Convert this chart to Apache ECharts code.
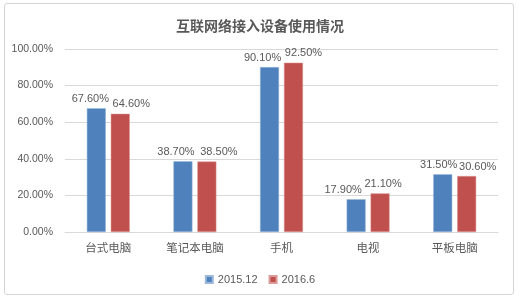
<!DOCTYPE html>
<html><head><meta charset="utf-8">
<script src="https://cdn.jsdelivr.net/npm/echarts@6/dist/echarts.min.js"></script>
<style>html,body{margin:0;padding:0;background:#fff}#wrap{position:absolute;left:4px;top:3px;width:510px;height:292px;border:1px solid #d4d4d4;border-radius:3px;box-sizing:border-box}#c{position:absolute;left:0;top:0;width:520px;height:299px}</style>
</head><body><div id="wrap"></div><div id="c"></div>
<script>
const categories = ['台式电脑','笔记本电脑','手机','电视','平板电脑'];
const series2015 = [67.6, 38.7, 90.1, 17.9, 31.5];
const series2016 = [64.6, 38.5, 92.5, 21.1, 30.6];
const seriesNames = ['2015.12','2016.6'];
const yTicks = {min:0, max:100, interval:20};
// horizontal nudges of the value labels (as placed in the original to avoid overlap)
const labelShift2015 = [-6, -7, -7, -13, -4];
const labelShift2016 = [11, 12, 10, 3, 11];

const font = '"Liberation Sans", "Noto Sans CJK SC", sans-serif';
const cjk = '"Noto Sans CJK SC", sans-serif';
const chart = echarts.init(document.getElementById('c'));
const mkLabel = () => ({show:true, position:'top', distance:4, color:'#595959', fontSize:11, fontFamily:font,
  formatter: p => p.value.toFixed(2) + '%'});
const mkData = (vals, shifts) => vals.map((v,i) => ({value:v, label:{offset:[shifts[i],0]}}));
chart.setOption({
  animation:false,
  title:{text:'互联网络接入设备使用情况', left:'center', top:14,
    textStyle:{fontSize:14, fontWeight:'bold', color:'#595959', fontFamily:cjk}},
  legend:{data:seriesNames, top:269, left:'center', itemWidth:7, itemHeight:7, itemGap:11,
    icon:'rect', textStyle:{color:'#595959', fontSize:11, fontFamily:font}},
  grid:{left:65, right:22, top:49, bottom:67, containLabel:false},
  xAxis:{type:'category', data:categories,
    axisLine:{lineStyle:{color:'#d9d9d9'}}, axisTick:{show:false},
    axisLabel:{color:'#595959', fontSize:11.5, margin:10, fontFamily:cjk}},
  yAxis:{type:'value', min:yTicks.min, max:yTicks.max, interval:yTicks.interval,
    axisLine:{show:false}, axisTick:{show:false},
    splitLine:{lineStyle:{color:'#d9d9d9'}},
    axisLabel:{color:'#595959', fontSize:10.5, margin:12, fontFamily:font, formatter: v => v.toFixed(2)+'%'}},
  series:[
    {name:seriesNames[0], type:'bar', data:mkData(series2015, labelShift2015), barWidth:19, barGap:'26%',
      itemStyle:{color:'#4f81bd', borderColor:'#9db8da', borderWidth:0.5}, label:mkLabel()},
    {name:seriesNames[1], type:'bar', data:mkData(series2016, labelShift2016), barWidth:19,
      itemStyle:{color:'#c0504d', borderColor:'#dc9a98', borderWidth:0.5}, label:mkLabel()}
  ]
});
</script></body></html>
